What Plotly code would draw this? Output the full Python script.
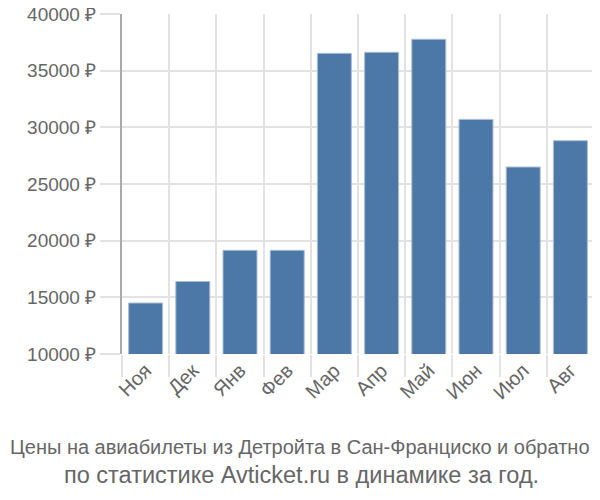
import plotly.graph_objects as go

months = ["Ноя", "Дек", "Янв", "Фев", "Мар", "Апр", "Май", "Июн", "Июл", "Авг"]
prices = [14500, 16400, 19150, 19150, 36530, 36620, 37770, 30700, 26500, 28820]
y_ticks = [10000, 15000, 20000, 25000, 30000, 35000, 40000]
y_tick_text = [f"{v} ₽" for v in y_ticks]
title_lines = ["Цены на авиабилеты из Детройта в Сан-Франциско и обратно",
               "по статистике Avticket.ru в динамике за год."]

fig = go.Figure()
fig.add_trace(go.Bar(
    x=months, y=prices,
    marker=dict(color="#4c78a8", line=dict(color="#a9bdd6", width=1)),
))

# page body has an 8px margin, so the figure is 8px smaller and offset
PX, PY = 114, 346  # plot-area left / bottom in figure pixels
PW, PH = 472, 340

def px(x_page):
    return (x_page - 8 - PX) / PW

def py(y_page):
    return -((y_page - 8) - PY) / PH

fig.update_layout(
    width=592, height=492,
    margin=dict(l=114, r=6, t=6, b=146, autoexpand=False),
    plot_bgcolor="white", paper_bgcolor="white",
    bargap=0.28,
    showlegend=False,
    font=dict(family="Liberation Sans, Arial, sans-serif", color="#666666", size=18),
    xaxis=dict(
        type="category", tickson="boundaries", showgrid=True, gridcolor="#e3e3e3", gridwidth=1.5,
        ticks="outside", ticklen=22, tickcolor="#e3e3e3", tickwidth=1.5,
        tickangle=-45, tickfont=dict(size=20, color="#666666"),
        showline=False, zeroline=False,
    ),
    yaxis=dict(
        range=[10000, 40000], tickvals=y_ticks, ticktext=y_tick_text,
        showgrid=True, gridcolor="#e3e3e3", gridwidth=1.5,
        ticks="outside", ticklen=20, tickcolor="#e3e3e3", tickwidth=1.5,
        showline=True, linecolor="#aaaaaa", linewidth=2,
        tickfont=dict(size=19, color="#666666"), zeroline=False,
        ticklabeloverflow="allow",
    ),
    annotations=[
        dict(text=title_lines[0], xref="paper", yref="paper",
             x=px(300), y=py(447), xanchor="center", yanchor="middle", showarrow=False,
             font=dict(family="Liberation Sans, Arial, sans-serif", size=20, color="#666666")),
        dict(text=title_lines[1], xref="paper", yref="paper",
             x=px(301), y=py(475), xanchor="center", yanchor="middle", showarrow=False,
             font=dict(family="Liberation Sans, Arial, sans-serif", size=23.5, color="#666666")),
    ],
)

fig.write_html("out.html")
